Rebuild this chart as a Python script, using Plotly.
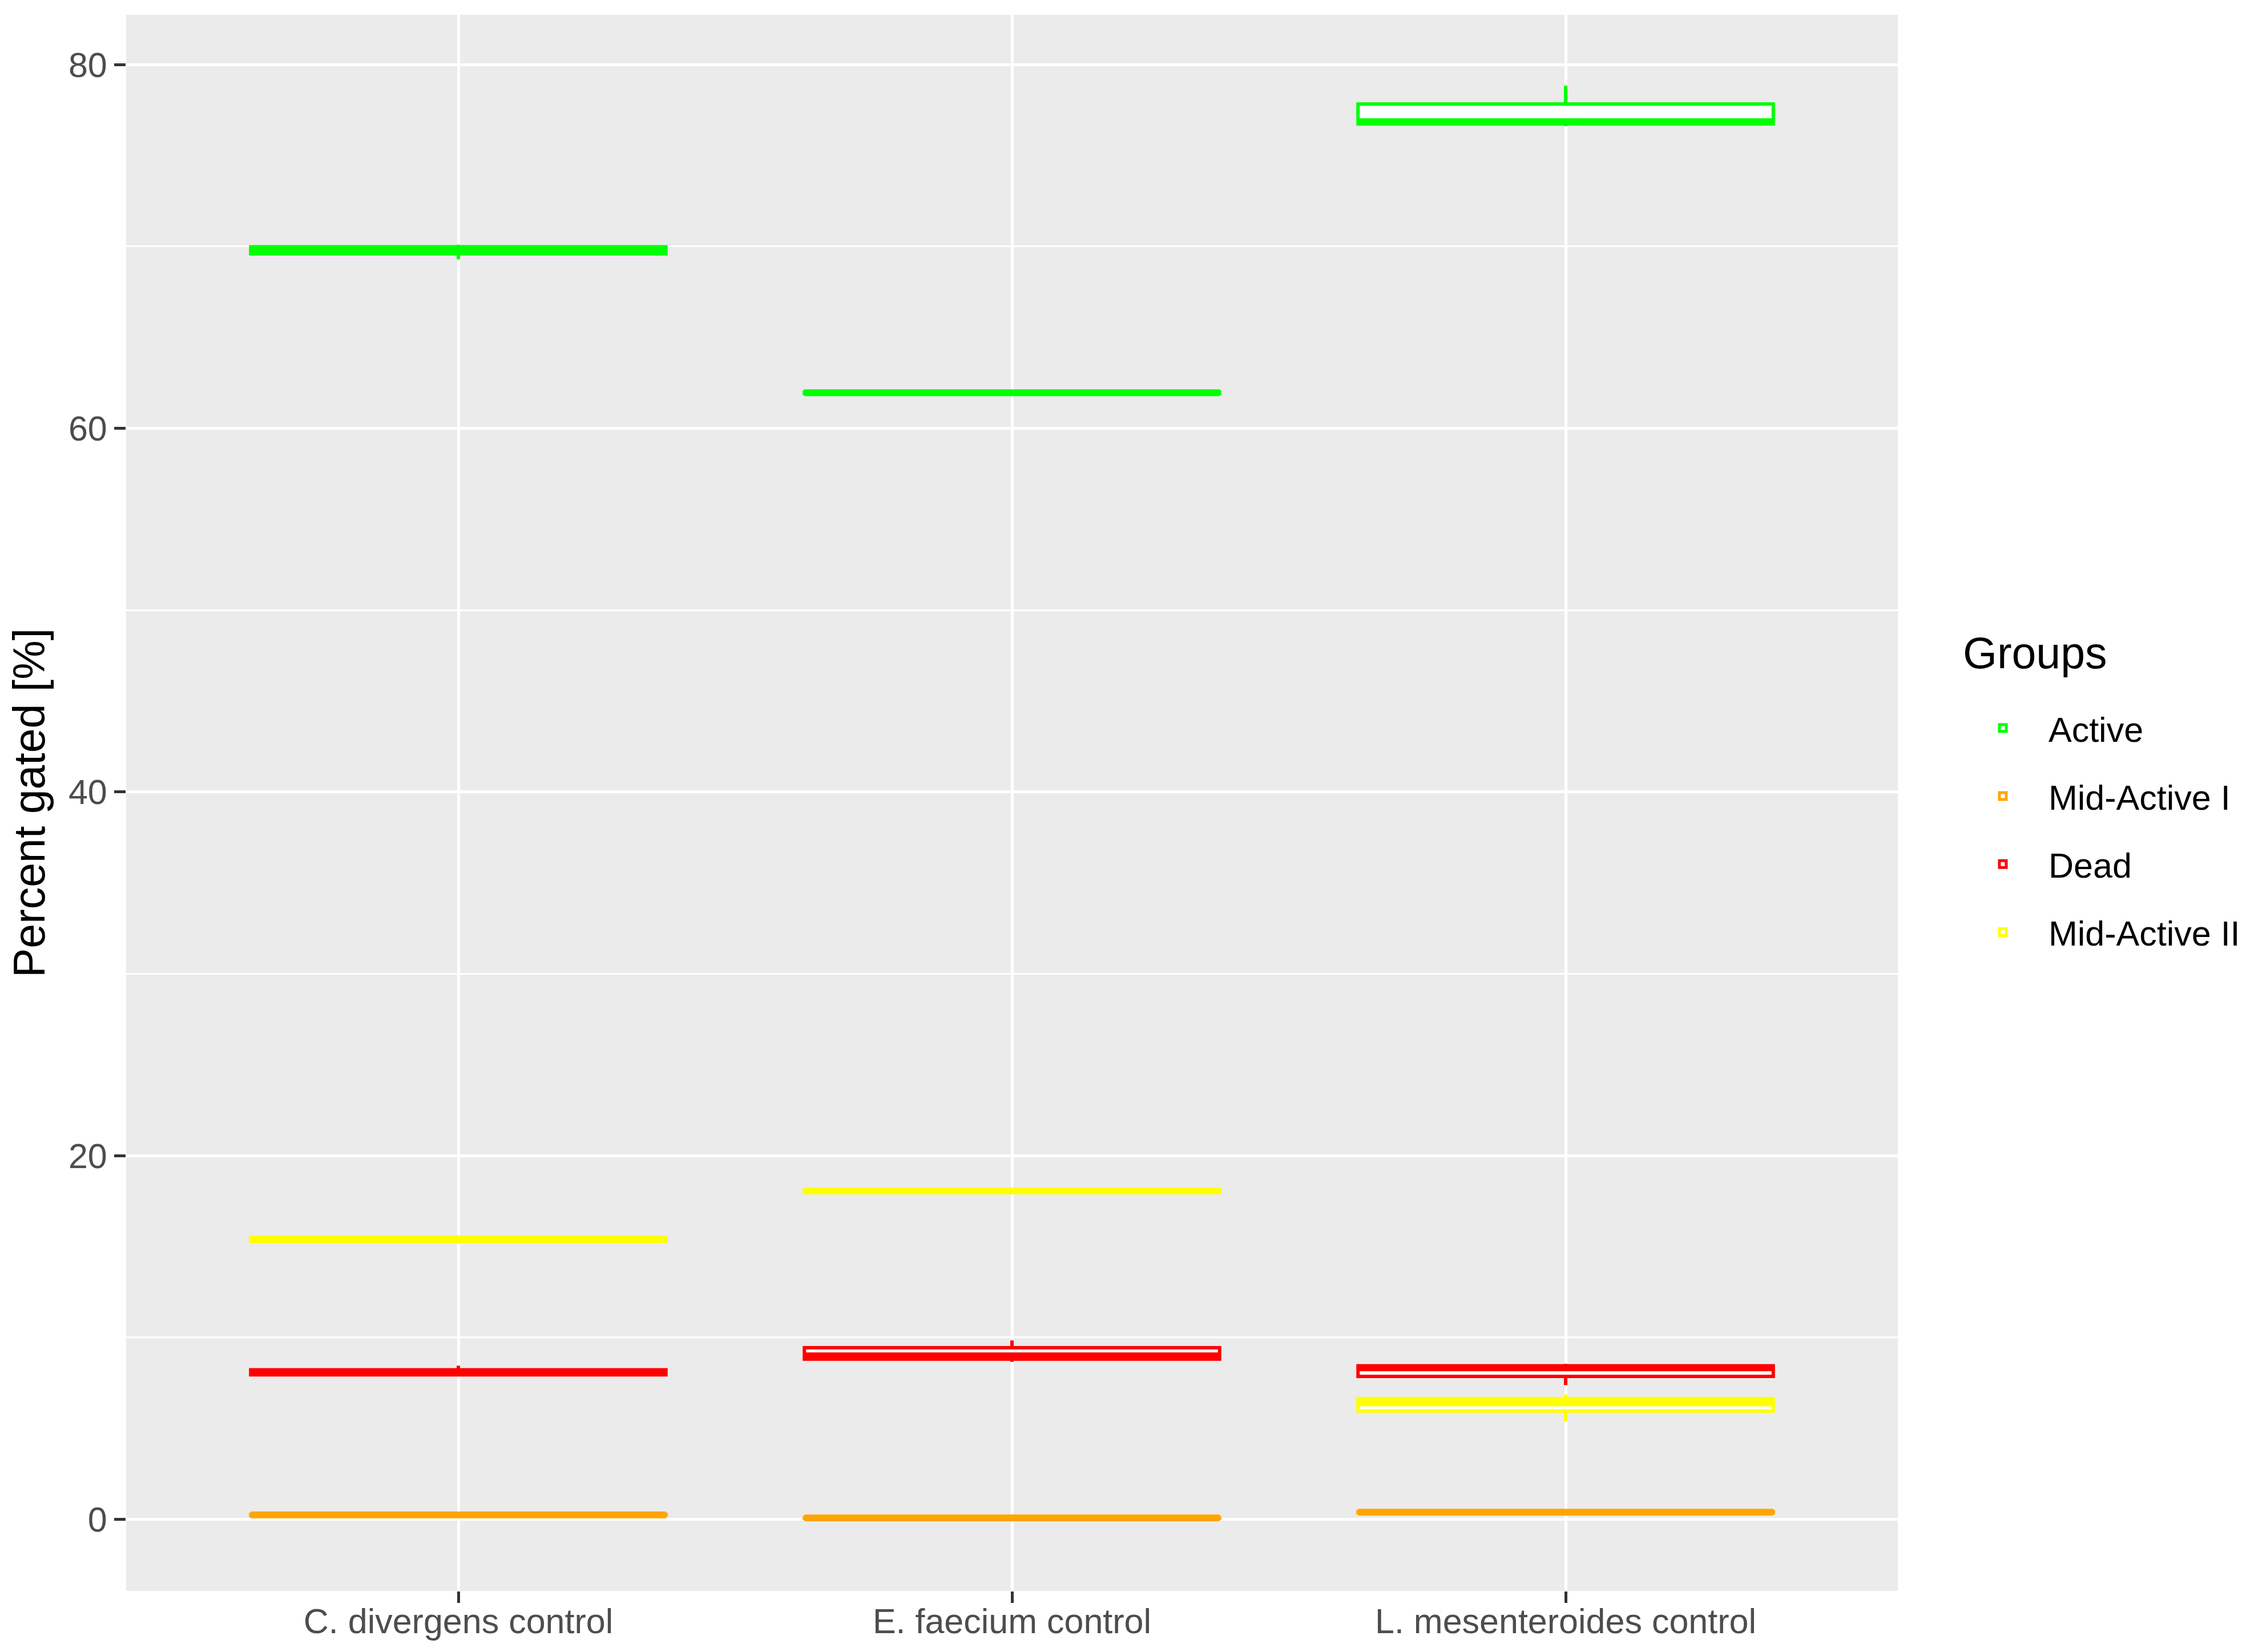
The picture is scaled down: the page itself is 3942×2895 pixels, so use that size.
import plotly.graph_objects as go

categories = ["C. divergens control", "E. faecium control", "L. mesenteroides control"]
groups = ["Active", "Mid-Active I", "Dead", "Mid-Active II"]
colors = ["#00FF00", "#FFA500", "#FF0000", "#FFFF00"]

# Box statistics per group, one value per category
active_lower = [69.29, 61.88, 76.62]
active_q1 = [69.60, 61.92, 76.74]
active_median = [69.85, 61.96, 76.86]
active_q3 = [69.98, 62.00, 77.84]
active_upper = [70.10, 62.04, 78.84]

mid1_lower = [0.17, 0.02, 0.33]
mid1_q1 = [0.21, 0.05, 0.36]
mid1_median = [0.24, 0.08, 0.39]
mid1_q3 = [0.27, 0.10, 0.42]
mid1_upper = [0.30, 0.12, 0.45]

dead_lower = [7.85, 8.66, 7.38]
dead_q1 = [7.95, 8.81, 7.86]
dead_median = [8.08, 8.99, 8.33]
dead_q3 = [8.22, 9.44, 8.44]
dead_upper = [8.45, 9.84, 8.55]

mid2_lower = [15.18, 17.92, 5.39]
mid2_q1 = [15.29, 17.98, 5.95]
mid2_median = [15.40, 18.06, 6.40]
mid2_q3 = [15.51, 18.12, 6.64]
mid2_upper = [15.62, 18.18, 6.86]

y_ticks = [0, 20, 40, 60, 80]
y_minor = [10, 30, 50, 70]

stats = [
    (active_lower, active_q1, active_median, active_q3, active_upper),
    (mid1_lower, mid1_q1, mid1_median, mid1_q3, mid1_upper),
    (dead_lower, dead_q1, dead_median, dead_q3, dead_upper),
    (mid2_lower, mid2_q1, mid2_median, mid2_q3, mid2_upper),
]

FONT = "Liberation Sans, Arial, sans-serif"

fig = go.Figure()
for name, col, (lo, q1, med, q3, up) in zip(groups, colors, stats):
    fig.add_trace(go.Box(
        name=name,
        legendgroup=name,
        x=categories,
        lowerfence=lo, q1=q1, median=med, q3=q3, upperfence=up,
        boxpoints=False,
        width=0.75,
        whiskerwidth=0,
        fillcolor="white",
        line=dict(color=col, width=6),
        hoverinfo="skip",
    ))
    # thicker median bar (ggplot draws the median twice as thick)
    fig.add_trace(go.Box(
        name=name,
        legendgroup=name,
        showlegend=False,
        x=categories,
        lowerfence=med, q1=med, median=med, q3=med, upperfence=med,
        boxpoints=False,
        width=0.75,
        whiskerwidth=0,
        fillcolor=col,
        line=dict(color=col, width=12),
        hoverinfo="skip",
    ))

fig.add_annotation(
    text="Groups", xref="paper", yref="paper",
    x=1.036, y=0.5952, xanchor="left", yanchor="middle",
    showarrow=False,
    font=dict(size=77, color="black", family=FONT),
)

fig.update_layout(
    width=3934, height=2887,
    margin=dict(l=213, r=617, t=18, b=107, pad=0),
    paper_bgcolor="white",
    plot_bgcolor="#EBEBEB",
    boxmode="overlay",
    font=dict(family=FONT, color="black"),
    showlegend=True,
    legend=dict(
        font=dict(size=61, color="black", family=FONT),
        x=1.0335, xanchor="left", y=0.4826, yanchor="middle",
        bgcolor="white",
        itemwidth=150,
        tracegroupgap=37,
    ),
    xaxis=dict(
        type="category",
        categoryorder="array", categoryarray=categories,
        range=[-0.6, 2.6],
        showgrid=True, gridcolor="white", gridwidth=5,
        zeroline=False, showline=False,
        ticks="outside", ticklen=20, tickwidth=5, tickcolor="#333333",
        ticklabelstandoff=-20,
        tickfont=dict(size=61, color="#4D4D4D", family=FONT),
    ),
    yaxis=dict(
        range=[-3.94, 82.74],
        tickmode="array", tickvals=y_ticks, ticktext=[str(v) for v in y_ticks],
        showgrid=True, gridcolor="white", gridwidth=5,
        minor=dict(tickmode="array", tickvals=y_minor, showgrid=True, gridcolor="white", gridwidth=2.5, ticks=""),
        zeroline=False, showline=False,
        ticks="outside", ticklen=20, tickwidth=5, tickcolor="#333333",
        tickfont=dict(size=61, color="#4D4D4D", family=FONT),
        title=dict(text="Percent gated [%]", font=dict(size=77, color="black", family=FONT), standoff=15),
    ),
)

fig.write_html("out.html")
